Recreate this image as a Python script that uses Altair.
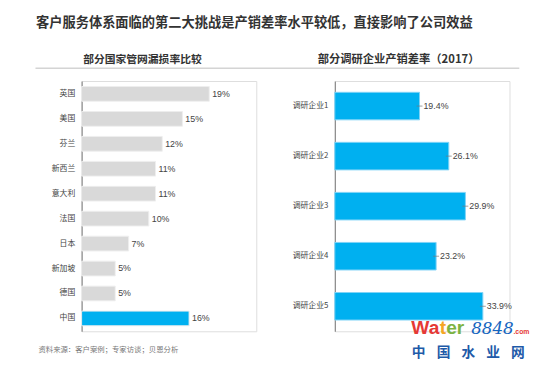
import altair as alt
import pandas as pd

# ---- data ----
countries = ["英国", "美国", "芬兰", "新西兰", "意大利", "法国", "日本", "新加坡", "德国", "中国"]
leak_rates = [19, 15, 12, 11, 11, 10, 7, 5, 5, 16]
leak_labels = ["19%", "15%", "12%", "11%", "11%", "10%", "7%", "5%", "5%", "16%"]
highlight = ["否", "否", "否", "否", "否", "否", "否", "否", "否", "是"]

companies = ["调研企业1", "调研企业2", "调研企业3", "调研企业4", "调研企业5"]
nrw_rates = [19.4, 26.1, 29.9, 23.2, 33.9]
nrw_labels = ["19.4%", "26.1%", "29.9%", "23.2%", "33.9%"]

main_title = ["客户服务体系面临的第二大挑战是产销差率水平较低，直接影响了公司效益"]
left_sub = ["部分国家管网漏损率比较"]
right_sub = ["部分调研企业产销差率（2017）"]
source_txt = ["资料来源：客户案例；专家访谈；贝恩分析"]

CJK = "Noto Sans CJK SC"
LAT = "Liberation Sans"
BLUE = "#00B0F0"
GRAY = "#D9D9D9"

left_df = pd.DataFrame({"country": countries, "value": leak_rates,
                        "label": leak_labels, "hl": highlight})
right_df = pd.DataFrame({"company": companies, "value": nrw_rates, "label": nrw_labels})

one = pd.DataFrame({"k": [0]})

# ---- left panel ----
lbase = alt.Chart(left_df).encode(
    y=alt.Y("country:N", sort=countries, title=None,
            scale=alt.Scale(paddingInner=0.41, paddingOuter=0.22),
            axis=alt.Axis(domainColor="#777777", domainWidth=1, ticks=False,
                          labelFont=CJK, labelFontSize=8, labelColor="#444444",
                          labelPadding=7, grid=False)),
    x=alt.X("value:Q", scale=alt.Scale(domain=[0, 26], nice=False), axis=None),
)
lbars = lbase.mark_bar(stroke="#EEEEEE", strokeWidth=1).encode(
    color=alt.Color("hl:N", scale=alt.Scale(domain=["否", "是"], range=[GRAY, BLUE]), legend=None)
)
ltext = lbase.mark_text(align="left", baseline="middle", dx=3, font=LAT,
                        fontSize=9, color="#444444").encode(text="label:N")

title_mark = alt.Chart(pd.DataFrame({"t": main_title})).mark_text(
    font=CJK, fontSize=13.5, fontWeight="bold", color="#333333",
    align="center", baseline="middle").encode(
    x=alt.value(176), y=alt.value(-59), text="t:N")
lsub_mark = alt.Chart(pd.DataFrame({"t": left_sub})).mark_text(
    font=CJK, fontSize=11, fontWeight="bold", color="#333333",
    align="center", baseline="middle").encode(
    x=alt.value(62), y=alt.value(-21), text="t:N")
rule_mark = alt.Chart(one).mark_rule(color="#D4D4D4", strokeWidth=1.5).encode(
    x=alt.value(-47), x2=alt.value(446), y=alt.value(-13))
src_mark = alt.Chart(pd.DataFrame({"t": source_txt})).mark_text(
    font=CJK, fontSize=7.5, color="#777777", align="left", baseline="middle").encode(
    x=alt.value(-44), y=alt.value(274), text="t:N")

left = alt.layer(lbars, ltext, title_mark, lsub_mark, rule_mark, src_mark).properties(
    width=178, height=255)

# ---- right panel ----
rbase = alt.Chart(right_df).encode(
    y=alt.Y("company:N", sort=companies, title=None,
            scale=alt.Scale(paddingInner=0.45, paddingOuter=0.225),
            axis=alt.Axis(domainColor="#777777", domainWidth=1, ticks=False,
                          labelFont=CJK, labelFontSize=8, labelColor="#444444",
                          labelPadding=7, grid=False)),
    x=alt.X("value:Q", scale=alt.Scale(domain=[0, 40], nice=False), axis=None),
)
rbars = rbase.mark_bar(color=BLUE, stroke="#7FD3F7", strokeWidth=1)
rticks = rbase.mark_tick(orient="horizontal", size=6, thickness=1, color="#777777")
rtext = rbase.mark_text(align="left", baseline="middle", dx=4, font=LAT,
                        fontSize=9, color="#444444").encode(text="label:N")
rsub_mark = alt.Chart(pd.DataFrame({"t": right_sub})).mark_text(
    font=CJK, fontSize=11.5, fontWeight="bold", color="#333333",
    align="center", baseline="middle").encode(
    x=alt.value(65), y=alt.value(-21), text="t:N")

# watermark
wm_parts = ["Wa", "t", "er", "8848", ".com"]
wm_x = [78, 107, 113.5, 139, 182]
wm_col = ["#E53935", "#F5A623", "#7CB342", "#1565C0", "#E53935"]
wm_size = [19.5, 19.5, 19.5, 17, 7]
wm_layers = []
for p, xx, c, s in zip(wm_parts, wm_x, wm_col, wm_size):
    is_num = p == "8848"
    wm_layers.append(alt.Chart(pd.DataFrame({"t": [p]})).mark_text(
        font="DejaVu Serif" if is_num else LAT, fontSize=s,
        fontWeight="normal" if is_num else "bold",
        fontStyle="italic" if is_num else "normal",
        color=c, align="left", baseline="alphabetic").encode(
        x=alt.value(xx), y=alt.value(258), text="t:N"))
wm_chars = ["中", "国", "水", "业", "网"]
wm_cx = [85.5, 110.75, 136, 161.25, 186.5]
for ch, xx in zip(wm_chars, wm_cx):
    wm_layers.append(alt.Chart(pd.DataFrame({"t": [ch]})).mark_text(
        font=CJK, fontSize=14, fontWeight="bold", color="#1E5AA8",
        align="center", baseline="middle").encode(
        x=alt.value(xx), y=alt.value(277), text="t:N"))

right = alt.layer(rbars, rticks, rtext, rsub_mark, *wm_layers).properties(
    width=178, height=255)

chart = alt.hconcat(left, right, spacing=80, bounds="flush").properties(
    padding={"left": 26, "top": 4, "right": 5, "bottom": 5}
).configure_view(stroke=None).configure(background="white")

chart.save("out.html", embed_options={"renderer": "svg", "actions": False})
